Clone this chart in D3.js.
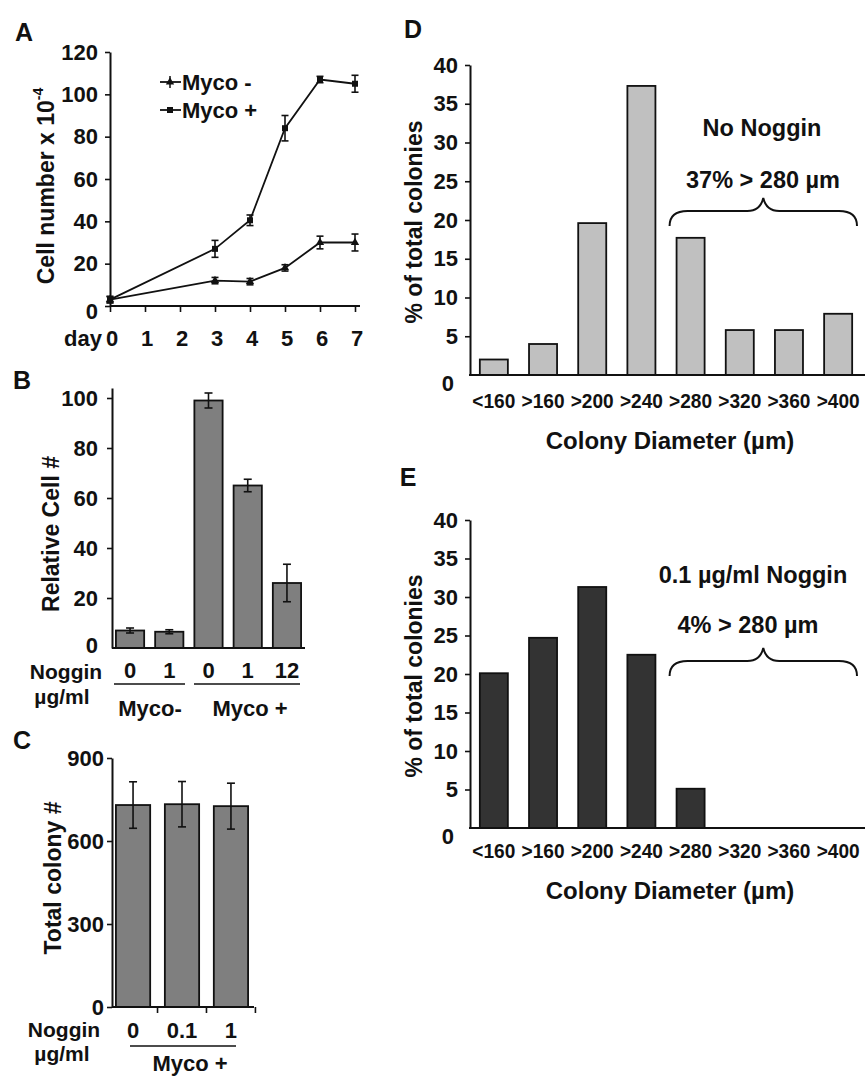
<!DOCTYPE html>
<html><head><meta charset="utf-8">
<script src="https://cdn.jsdelivr.net/npm/d3@7"></script>
<style>
body{margin:0;background:#fff;}
svg text{font-family:"Liberation Sans",Arial,sans-serif;font-weight:bold;fill:#111;}
</style></head>
<body><svg id="c" width="865" height="1076"></svg>
<script>
// ---------- DATA ----------
// Panel A
const days = [0, 3, 4, 5, 6, 7];
const mycoMinus = [3, 12, 11.5, 18, 30, 30];
const mycoMinusErr = [1.5, 1.5, 1.5, 1.5, 3, 4];
const mycoPlus = [3, 27, 40.5, 84, 107, 105];
const mycoPlusErr = [1.5, 4, 2.5, 6, 1.5, 4];
const dayTicks = [0, 1, 2, 3, 4, 5, 6, 7];
const aYTicks = [0, 20, 40, 60, 80, 100, 120];
// Panel B
const bNoggin = ["0", "1", "0", "1", "12"];
const bValues = [7, 6.5, 99, 65, 26];
const bErr = [1, 0.8, 3, 2.5, 7.5];
const bYTicks = [0, 20, 40, 60, 80, 100];
// Panel C
const cNoggin = ["0", "0.1", "1"];
const cValues = [730, 733, 726];
const cErr = [84, 82, 83];
const cYTicks = [0, 300, 600, 900];
// Panels D/E
const diamCats = ["<160", ">160", ">200", ">240", ">280", ">320", ">360", ">400"];
const dValues = [2, 4, 19.6, 37.3, 17.7, 5.8, 5.8, 7.9];
const eValues = [20.1, 24.7, 31.3, 22.5, 5.1, 0, 0, 0];
const pctTicks = [0, 5, 10, 15, 20, 25, 30, 35, 40];

// ---------- DRAW ----------
const svg = d3.select("#c");
const FS = 22;   // tick / label font
const TS = 23;   // axis title font
const LS = 25;   // panel letter

function txt(x, y, s, opt = {}) {
  const t = svg.append("text").attr("x", x).attr("y", y).text(s)
    .attr("font-size", opt.size || FS)
    .attr("text-anchor", opt.anchor || "middle")
    .attr("dominant-baseline", "central");
  if (opt.rotate) t.attr("transform", `rotate(-90,${x},${y})`);
  if (opt.len) t.attr("textLength", opt.len).attr("lengthAdjust", "spacingAndGlyphs");
  return t;
}
function yAxis(g, y, ticks, pad) {
  g.call(d3.axisLeft(y).tickValues(ticks).tickSize(5).tickPadding(pad).tickSizeOuter(0));
  g.select(".domain").attr("stroke", "#111").attr("stroke-width", 2);
  g.selectAll(".tick line").attr("stroke", "#111").attr("stroke-width", 1.6);
  g.selectAll(".tick text").attr("font-size", FS).attr("font-family", "Liberation Sans, Arial, sans-serif").attr("font-weight", "bold").attr("fill", "#111");
}
function errBar(g, x, y0, y1, cap) {
  g.append("line").attr("x1", x).attr("x2", x).attr("y1", y0).attr("y2", y1).attr("stroke", "#111").attr("stroke-width", 1.6);
  [y0, y1].forEach(yy => g.append("line").attr("x1", x - cap).attr("x2", x + cap).attr("y1", yy).attr("y2", yy).attr("stroke", "#111").attr("stroke-width", 1.6));
}

// ===== Panel A =====
{
  const x = d3.scaleLinear().domain([0, 7]).range([110, 355]);
  const y = d3.scaleLinear().domain([0, 120]).range([306, 52]);
  txt(24, 32, "A", {size: LS});
  const g = svg.append("g");
  const gy = g.append("g").attr("transform", "translate(110,0)");
  yAxis(gy, y, aYTicks, 7);
  gy.selectAll(".tick").filter(d => d === 0).select("text").attr("dy", "0.55em");
  const gx = g.append("g").attr("transform", "translate(0,306)");
  gx.call(d3.axisBottom(x).tickValues(dayTicks).tickSize(6).tickSizeOuter(0).tickFormat(""));
  gx.select(".domain").attr("stroke", "#111").attr("stroke-width", 2).attr("d", `M110,0H360`);
  gx.selectAll(".tick line").attr("stroke", "#111").attr("stroke-width", 1.6);
  dayTicks.forEach(d => txt(x(d) + 2, 338, String(d)));
  txt(83, 338, "day");
  const tt = txt(46, 186, "", {rotate: true, size: TS});
  tt.append("tspan").text("Cell number x 10");
  tt.append("tspan").text("-4").attr("font-size", 14).attr("dy", -8);

  const line = d3.line().x((d, i) => x(days[i])).y(d => y(d));
  [[mycoMinus, mycoMinusErr, "tri"], [mycoPlus, mycoPlusErr, "sq"]].forEach(([vals, errs, m]) => {
    g.append("path").datum(vals).attr("d", line).attr("fill", "none").attr("stroke", "#111").attr("stroke-width", 1.8);
    vals.forEach((v, i) => {
      errBar(g, x(days[i]), y(v + errs[i]), y(v - errs[i]), 3.5);
      if (m === "sq") g.append("rect").attr("x", x(days[i]) - 3).attr("y", y(v) - 3).attr("width", 6).attr("height", 6).attr("fill", "#111");
      else g.append("path").attr("d", d3.symbol(d3.symbolTriangle, 30)()).attr("transform", `translate(${x(days[i])},${y(v)})`).attr("fill", "#111");
    });
  });
  [["Myco -", 82, "tri"], ["Myco +", 110, "sq"]].forEach(([lab, ly, m]) => {
    g.append("line").attr("x1", 160).attr("x2", 181).attr("y1", ly).attr("y2", ly).attr("stroke", "#111").attr("stroke-width", 1.8);
    if (m === "sq") g.append("rect").attr("x", 167).attr("y", ly - 3).attr("width", 6).attr("height", 6).attr("fill", "#111");
    else {
      g.append("path").attr("d", d3.symbol(d3.symbolTriangle, 30)()).attr("transform", `translate(170,${ly})`).attr("fill", "#111");
      g.append("line").attr("x1", 170).attr("x2", 170).attr("y1", ly - 6).attr("y2", ly + 6).attr("stroke", "#111").attr("stroke-width", 1.5);
    }
    txt(182, ly, lab, {anchor: "start"});
  });
}

// ===== Panel B =====
{
  const x = d3.scaleBand().domain(d3.range(bValues.length)).range([112, 305]).paddingInner(0.28).paddingOuter(0.1);
  const y = d3.scaleLinear().domain([0, 104]).range([648, 388]);
  txt(22, 380, "B", {size: LS});
  const g = svg.append("g");
  g.selectAll("rect.b").data(bValues).join("rect")
    .attr("x", (d, i) => x(i)).attr("width", x.bandwidth())
    .attr("y", d => y(d)).attr("height", d => y(0) - y(d))
    .attr("fill", "#7f7f7f").attr("stroke", "#111").attr("stroke-width", 1.8);
  bValues.forEach((v, i) => errBar(g, x(i) + x.bandwidth() / 2, y(v + bErr[i]), y(v - bErr[i]), 4));
  const gy = g.append("g").attr("transform", "translate(112,0)");
  yAxis(gy, y, bYTicks, 9);
  gy.selectAll(".tick").filter(d => d === 0).select("line").remove();
  gy.selectAll(".tick").filter(d => d === 0).select("text").attr("dy", "0.2em");
  g.append("line").attr("x1", 112).attr("x2", 305).attr("y1", 648).attr("y2", 648).attr("stroke", "#111").attr("stroke-width", 2);
  txt(66, 671, "Noggin", {size: 21});
  txt(62, 696, "\u00b5g/ml", {size: 21});
  bNoggin.forEach((s, i) => txt(x(i) + x.bandwidth() / 2, 670, s));
  g.append("line").attr("x1", 114).attr("x2", 185).attr("y1", 684).attr("y2", 684).attr("stroke", "#111").attr("stroke-width", 1.6);
  g.append("line").attr("x1", 194).attr("x2", 300).attr("y1", 684).attr("y2", 684).attr("stroke", "#111").attr("stroke-width", 1.6);
  txt(150, 708, "Myco-");
  txt(250, 708, "Myco +");
  txt(51, 534, "Relative Cell #", {rotate: true, size: TS});
}

// ===== Panel C =====
{
  const x = d3.scaleBand().domain(d3.range(cValues.length)).range([112, 252]).paddingInner(0.3).paddingOuter(0.08);
  const y = d3.scaleLinear().domain([0, 900]).range([1007, 758]);
  txt(22, 740, "C", {size: LS});
  const g = svg.append("g");
  g.selectAll("rect.c").data(cValues).join("rect")
    .attr("x", (d, i) => x(i)).attr("width", x.bandwidth())
    .attr("y", d => y(d)).attr("height", d => y(0) - y(d))
    .attr("fill", "#7f7f7f").attr("stroke", "#111").attr("stroke-width", 1.8);
  cValues.forEach((v, i) => errBar(g, x(i) + x.bandwidth() / 2, y(v + cErr[i]), y(v - cErr[i]), 4));
  const gy = g.append("g").attr("transform", "translate(112,0)");
  yAxis(gy, y, cYTicks, 3);
  g.append("line").attr("x1", 112).attr("x2", 254).attr("y1", 1007).attr("y2", 1007).attr("stroke", "#111").attr("stroke-width", 2);
  cValues.forEach((v, i) => {
    const tx = x(i) + x.bandwidth() + x.step() * x.paddingInner() / 2;
    g.append("line").attr("x1", tx).attr("x2", tx).attr("y1", 1007).attr("y2", 1013).attr("stroke", "#111").attr("stroke-width", 1.6);
  });
  txt(64, 1029, "Noggin", {size: 21});
  txt(62, 1053, "\u00b5g/ml", {size: 21});
  cNoggin.forEach((s, i) => txt(x(i) + x.bandwidth() / 2, 1030, s));
  g.append("line").attr("x1", 130).attr("x2", 236).attr("y1", 1046).attr("y2", 1046).attr("stroke", "#111").attr("stroke-width", 1.6);
  txt(190, 1063, "Myco +");
  txt(53, 878, "Total colony #", {rotate: true, size: TS});
}

// ===== Panels D & E =====
function histPanel(letter, lx, ly, vals, fill, y0, y40, labelY, titleY, ann1, ann1X, ann1Y, ann2, ann2X, ann2Y, braceY) {
  const x = d3.scaleBand().domain(diamCats).range([470, 862]).paddingInner(0.43).paddingOuter(0.2);
  const y = d3.scaleLinear().domain([0, 40]).range([y0, y40]);
  txt(lx, ly, letter, {size: LS});
  const g = svg.append("g");
  g.selectAll("rect").data(diamCats.map((c, i) => ({c, v: vals[i]})).filter(d => d.v > 0)).join("rect")
    .attr("x", d => x(d.c)).attr("width", x.bandwidth())
    .attr("y", d => y(d.v)).attr("height", d => y(0) - y(d.v))
    .attr("fill", fill).attr("stroke", "#111").attr("stroke-width", 1.8);
  const gy = g.append("g").attr("transform", "translate(470,0)");
  yAxis(gy, y, pctTicks, 7);
  gy.selectAll(".tick").filter(d => d === 0).select("line").remove();
  gy.selectAll(".tick").filter(d => d === 0).select("text").attr("dy", "0.72em").attr("dx", -4);
  g.append("line").attr("x1", 469).attr("x2", 865).attr("y1", y0).attr("y2", y0).attr("stroke", "#111").attr("stroke-width", 2);
  diamCats.forEach(c => txt(x(c) + x.bandwidth() / 2, labelY, c, {size: 21, len: 43}));
  txt(670, titleY, "Colony Diameter (\u00b5m)", {size: 24});
  txt(414, (y0 + y40) / 2 + 2, "% of total colonies", {rotate: true, size: TS});
  txt(ann1X, ann1Y, ann1, {size: 23.5});
  txt(ann2X, ann2Y, ann2, {size: 23.5});
  const xs = x(">280") - 7, xe = 857, xm = (xs + xe) / 2, by = braceY;
  g.append("path").attr("fill", "none").attr("stroke", "#111").attr("stroke-width", 2)
    .attr("d", `M${xs},${by + 15} Q${xs},${by} ${xs + 18},${by} L${xm - 16},${by} Q${xm - 3},${by} ${xm},${by - 13} Q${xm + 3},${by} ${xm + 16},${by} L${xe - 18},${by} Q${xe},${by} ${xe},${by + 15}`);
}
histPanel("D", 413, 29, dValues, "#c0c0c0", 375, 65, 400, 440, "No Noggin", 762, 128, "37% > 280 \u00b5m", 763, 180, 211);
histPanel("E", 408, 477, eValues, "#333333", 828, 520, 850, 890, "0.1 \u00b5g/ml Noggin", 753, 575, "4% > 280 \u00b5m", 748, 625, 661);
</script></body></html>
